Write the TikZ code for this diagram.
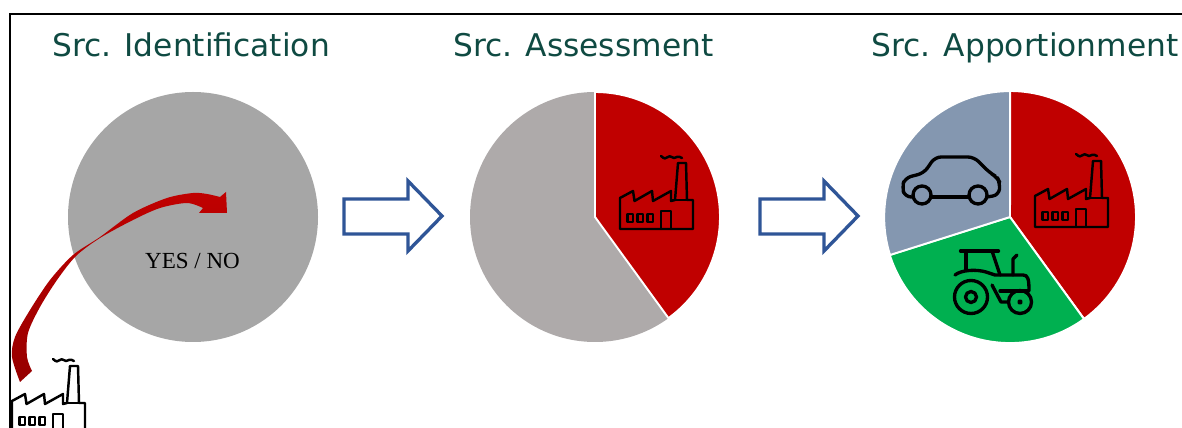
\documentclass[tikz,border=0pt]{standalone}
\usepackage{fontspec}
\setmainfont{Liberation Serif}
\newfontfamily\titlefont{DejaVu Sans}
\usetikzlibrary{positioning}

\definecolor{titlegreen}{HTML}{0F4A42}
\definecolor{srcred}{HTML}{C00000}
\definecolor{darkred}{HTML}{960000}
\definecolor{srcgreen}{HTML}{00B050}
\definecolor{srcblue}{HTML}{8497B0}
\definecolor{srcgrey}{HTML}{A6A6A6}
\definecolor{restgrey}{HTML}{AEAAAA}
\definecolor{arrowblue}{HTML}{2F5597}

\tikzset{
  title/.style={font=\titlefont\fontsize{17.8}{20}\selectfont, text=titlegreen, anchor=base west, inner sep=0pt},
  wedge/.style={draw=white, line width=1.1pt, line join=round},
  icon/.style={draw=black, line width=1.4pt, line join=round, line cap=round},
  bigicon/.style={draw=black, line width=1.9pt, line join=round, line cap=round},
  steparrow/.style={draw=arrowblue, fill=white, line width=1.9pt, line join=miter},
  factory/.pic={
    \draw[icon] (0,0) -- (0,-31) -- (13,-38) -- (14.5,-28) -- (32,-38) -- (33,-28) -- (51,-38) -- (51,-28)
      -- (55,-29) -- (58,-66) -- (66,-66) -- (67,-29) -- (73,-29) -- (73,0) -- cycle;
    \draw[icon] (51,-29) -- (67,-29);
    % Windows and door
    \draw[icon] (7.5,-15) rectangle (13,-7);
    \draw[icon] (17.5,-15) rectangle (23,-7);
    \draw[icon] (27.5,-15) rectangle (33,-7);
    \draw[icon] (41,0) -- (41,-18) -- (51,-18) -- (51,0);
    % Smoke
    \draw[icon] (41,-73) .. controls (44,-70) and (46,-70) .. (48,-72)
      .. controls (50,-74) and (52,-71) .. (54,-71) .. controls (56,-71) and (58,-74) .. (62,-71);
  },
  car/.pic={
    \draw[bigicon, rounded corners=3.5pt] (-9,2) -- (-17,2) -- (-20,-8) -- (-17,-17) -- (2,-22)
      -- (13,-38) -- (52,-38) -- (68,-22) -- (75,-18) -- (78,-12) -- (77,0) -- (65,2);
    \draw[bigicon] (9,2) -- (47,2);
    \draw[bigicon] (0,0) circle (9);
    \draw[bigicon] (56,0) circle (9);
  },
  tractor/.pic={
    \draw[bigicon] (0,0) circle (16.5);
    \draw[bigicon] (0,0) circle (5.5);
    \draw[bigicon] (49,5) circle (11.5);
    \draw[bigicon] (49,5) circle (1.2);
    % Cab
    \draw[bigicon] (-10.5,-46) -- (27.5,-46);
    \draw[bigicon] (-5,-46) -- (-5,-27);
    \draw[bigicon] (21,-46) -- (29,-22);
    \draw[bigicon] (-16,-22) .. controls (-10,-27) and (5,-28) .. (15,-25) -- (24,-22) -- (52,-22)
      .. controls (57,-22) and (58,-18) .. (58,-6);
    \draw[bigicon] (42,-22) -- (42,-38) -- (46,-42);
    \draw[bigicon] (21,-12) -- (30,5) -- (37,5);
    \draw[bigicon] (29,-6) -- (57,-6);
  },
}

\begin{document}
\begin{tikzpicture}[x=0.02cm, y=-0.02cm]
  \clip (0,0) rectangle (1182,428);

  % Frame
  \coordinate (fs) at (10,428);
  \coordinate (fc) at (10,14);
  \coordinate (fe) at (1182,14);
  \draw [black, line width=1.1pt] (fs) -- (fc) -- (fe);

  % Titles
  \node [title] (t1) at (52,57) {Src. Identification};
  \node [title] (t2) at (453,57) {Src. Assessment};
  \node [title] (t3) at (871,57) {Src. Apportionment};

  % Identification
  \fill [srcgrey] (193,217) circle (125);
  \node [font=\fontsize{13.1}{15}\selectfont, inner sep=0pt] (yn) at (192.5,261) {YES / NO};

  % Assessment
  \fill [restgrey] (595,217) circle (125);
  \draw [wedge, fill=srcred] (595,217) -- (595,92) arc (-90:54:125) -- cycle;
  \pic at (620,229) {factory};

  % Apportionment
  \draw [wedge, fill=srcred] (1010,217) -- (1010,91) arc (-90:54:126) -- cycle;
  \draw [wedge, fill=srcgreen] (1010,217) -- (1084,319) arc (54:162.5:126) -- cycle;
  \draw [wedge, fill=srcblue] (1010,217) -- (890,255) arc (162.5:270:126) -- cycle;
  \pic at (1035,227) {factory};
  \pic at (922,195) {car};
  \pic at (971,297) {tractor};

  % Step arrows
  \draw [steparrow] (344,199) -- (408,199) -- (408,181) -- (442,216) -- (408,251) -- (408,234) -- (344,234) -- cycle;
  \draw [steparrow] (760,199) -- (824,199) -- (824,181) -- (858,216) -- (824,251) -- (824,234) -- (760,234) -- cycle;

  % Curved arrow and factory
  \shade [top color=srcred, middle color=srcred, bottom color=darkred]
    plot [smooth] coordinates {(20,382) (12,357) (15,337) (30,310) (50,280) (73,255) (100,237) (133,213) (167,198) (193,193) (207,194) (220,197)}
    -- (226,192) -- (227,213) -- (199,213)
    -- plot [smooth] coordinates {(203,208) (187,203) (160,208) (133,220) (100,238) (76,256) (57,280) (40,307) (28,333) (27,357) (32,371)}
    -- cycle;
  \pic at (12,432) {factory};
\end{tikzpicture}
\end{document}
